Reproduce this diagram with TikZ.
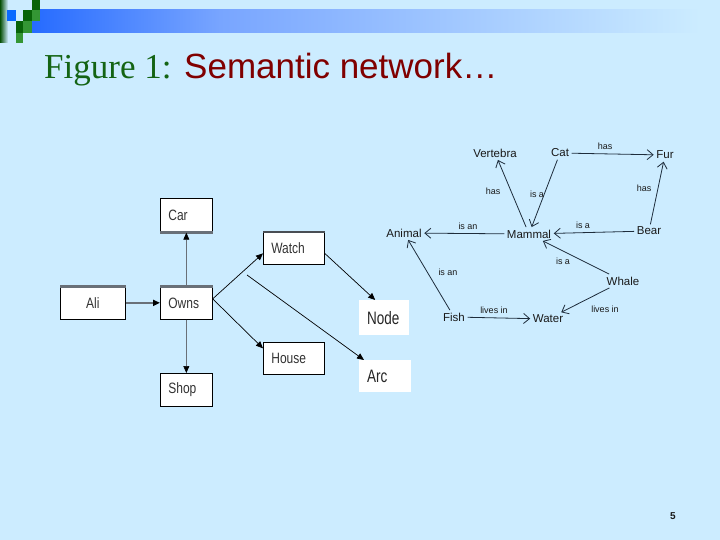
\documentclass[tikz,border=0pt]{standalone}
\usepackage{fontspec}
\setmainfont{Liberation Serif}
\newfontfamily\arial{Liberation Sans}
\usetikzlibrary{arrows.meta}
\definecolor{bg}{RGB}{204,236,255}
\definecolor{barblue}{RGB}{38,107,255}
\definecolor{barmid}{RGB}{120,165,255}
\definecolor{dkgreen}{RGB}{8,100,8}
\definecolor{mdgreen}{RGB}{52,150,52}
\definecolor{sqblue}{RGB}{10,106,255}
\definecolor{titlegreen}{RGB}{20,100,20}
\definecolor{titlered}{RGB}{128,0,0}
\definecolor{netline}{RGB}{30,45,60}
\definecolor{bargray}{RGB}{105,112,120}
\tikzset{
  box/.style={draw=black, line width=0.7pt, fill=white, anchor=north west, inner xsep=8pt, inner ysep=0pt, align=left, font=\arial\fontsize{15}{15}\selectfont, text=black!80},
  plainbox/.style={fill=white, anchor=north west, inner xsep=8pt, inner ysep=0pt, align=left, font=\arial\fontsize{18}{18}\selectfont, text=black!85},
  larrow/.style={-{Triangle[length=7pt,width=6pt]}, line width=0.7pt, black},
  grayarrow/.style={bargray, -{Triangle[length=7pt,width=6pt,color=black]}},
  net/.style={font=\arial\fontsize{11.5}{12}\selectfont, inner sep=2.5pt, text=black!90},
  lbl/.style={font=\arial\fontsize{9}{10}\selectfont, inner sep=0pt, text=black!90},
  narrow/.style={-{Straight Barb[length=6pt,width=10pt]}, line width=0.8pt, netline},
  topbar/.style={bargray, line width=3pt},
}
\newcommand{\nar}[1]{\scalebox{0.8}[1]{#1}}
\newcommand{\nnar}[1]{\scalebox{0.75}[1]{#1}}
\begin{document}
\begin{tikzpicture}[x=1pt,y=-1pt]
\useasboundingbox (0,0) rectangle (720,540);
\fill[bg] (0,0) rectangle (720,540);
% top bar
\shade[left color=barblue, right color=barmid] (32,10) rectangle (220,33);
\shade[left color=barmid, right color=bg] (219.5,10) rectangle (700,33);
\shade[left color=dkgreen!80!black, right color=bg] (0,0) rectangle (8,43);
\fill[dkgreen] (32,0) rectangle (40,10);
\fill[sqblue] (7,10) rectangle (16,21);
\fill[dkgreen] (23,10) rectangle (32,21);
\fill[mdgreen] (32,10) rectangle (40,21);
\fill[dkgreen] (16,21) rectangle (23,33);
\fill[mdgreen] (23,21) rectangle (32,33);
\fill[mdgreen] (16,33) rectangle (23,43);
% title
\node[anchor=base west, inner sep=0pt, text=titlegreen, font=\fontsize{35}{36}\selectfont] (t1) at (44,79) {Figure 1:};
\node[anchor=base west, inner sep=0pt, text=titlered, font=\arial\fontsize{35}{36}\selectfont] (t2) at (184,79) {Semantic network…};
% left diagram
\node[box, minimum width=52pt, minimum height=34pt, text width=36pt] (car) at (160,198) {\nar{Car}};
\node[box, minimum width=65pt, minimum height=33pt, text width=49pt, align=center] (ali) at (60,286) {\nar{Ali}};
\node[box, minimum width=52pt, minimum height=33pt, text width=36pt] (owns) at (160,286) {\nar{Owns}};
\node[box, minimum width=52pt, minimum height=33pt, text width=36pt] (shop) at (160,373) {\nar{Shop}};
\node[box, minimum width=61pt, minimum height=32pt, text width=45pt] (watch) at (263,232) {\nar{Watch}};
\node[box, minimum width=61pt, minimum height=32pt, text width=45pt] (house) at (263,342) {\nar{House}};
\node[plainbox, minimum width=50pt, minimum height=35pt, text width=34pt] (nnode) at (359,300) {\nnar{Node}};
\node[plainbox, minimum width=52pt, minimum height=32pt, text width=36pt] (narc) at (359,360) {\nnar{Arc}};
\draw[topbar] (car.south west) -- (car.south east);
\draw[topbar] (ali.north west) -- (ali.north east);
\draw[topbar] (owns.north west) -- (owns.north east);
\draw[topbar, line width=2.2pt, bargray!70!black] (watch.north west) -- (watch.north east);
\draw[grayarrow, line width=2pt] (ali.east) -- (owns.west);
\draw[grayarrow, line width=0.6pt] (owns.north) -- (car.south);
\draw[grayarrow, line width=0.6pt] (owns.south) -- (shop.north);
\draw[larrow] ([yshift=4pt]owns.east) -- ([yshift=-5pt]watch.west);
\draw[larrow] ([yshift=4pt]owns.east) -- ([yshift=10pt]house.west);
\draw[larrow] ([yshift=-5pt]watch.east) -- ([xshift=-9pt]nnode.north);
\coordinate (arcstart) at (247,275);
\draw[larrow] (arcstart) -- ([xshift=5pt]narc.north west);
% semantic network
\node[net] (vert) at (495,153) {Vertebra};
\node[net] (cat) at (560,153) {Cat};
\node[net] (fur) at (665,155) {Fur};
\node[net] (mammal) at (529,234) {Mammal};
\node[net] (animal) at (404,233) {Animal};
\node[net] (bear) at (649,231) {Bear};
\node[net] (whale) at (623,281) {Whale};
\node[net] (fish) at (454,317) {Fish};
\node[net] (water) at (548,319) {Water};
\draw[narrow] (cat) -- (fur);
\draw[narrow] (mammal) -- (vert);
\draw[narrow] (cat) -- (mammal);
\draw[narrow] (bear) -- (fur);
\draw[narrow] (bear) -- (mammal);
\draw[narrow] (mammal) -- (animal);
\draw[narrow] (whale) -- (mammal);
\draw[narrow] (fish) -- (animal);
\draw[narrow] (fish) -- (water);
\draw[narrow] (whale) -- (water);
\node[lbl] (l1) at (605,146) {has};
\node[lbl] (l2) at (493,191) {has};
\node[lbl] (l3) at (537,194) {is a};
\node[lbl] (l4) at (644,188) {has};
\node[lbl] (l5) at (583,225) {is a};
\node[lbl] (l6) at (468,226) {is an};
\node[lbl] (l7) at (563,261) {is a};
\node[lbl] (l8) at (448,272) {is an};
\node[lbl] (l9) at (494,310) {lives in};
\node[lbl] (l10) at (605,309) {lives in};
% page number
\node[font=\arial\bfseries\fontsize{10}{10}\selectfont, text=black!90, inner sep=0pt] (pg) at (673,516) {5};
\end{tikzpicture}
\end{document}
